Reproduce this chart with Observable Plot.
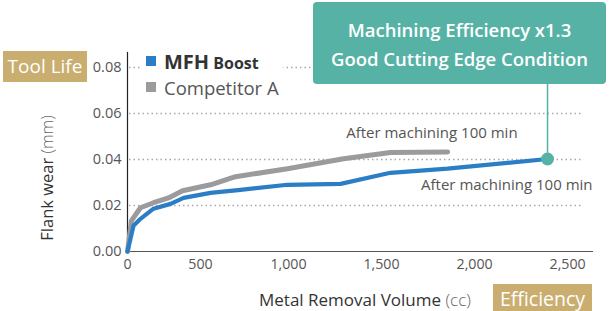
<!DOCTYPE html>
<html><head><meta charset="utf-8">
<script src="https://cdn.jsdelivr.net/npm/d3@7"></script>
<script src="https://cdn.jsdelivr.net/npm/@observablehq/plot@0.6"></script>
<style>
body{margin:0;background:#fff;font-family:"Open Sans",sans-serif;}
#wrap{position:relative;width:611px;height:311px;overflow:hidden;}
#chart{position:absolute;left:0;top:0;}
.tag{position:absolute;background:#c9ae6f;color:#fff;text-align:center;white-space:nowrap;}
#callout{position:absolute;left:313px;top:2px;width:293px;height:82px;background:#57b2a6;border-radius:4px;color:#fff;font-weight:600;font-size:18.5px;line-height:29px;text-align:center;box-sizing:border-box;padding-top:13px;white-space:nowrap;}
#legend{position:absolute;left:140px;top:48px;background:#fff;padding:0 4px 0 6px;}
.li{display:flex;align-items:center;height:26px;white-space:nowrap;color:#333;}
.sw{width:10px;height:10px;margin-right:8px;}
#ylab{position:absolute;left:46px;top:178px;transform:translate(-50%,-50%) rotate(-90deg);font-size:16.5px;color:#333;white-space:nowrap;}
#xlab{position:absolute;left:259px;top:288px;font-size:17px;color:#333;white-space:nowrap;}
.unit{color:#666;font-weight:300;}
</style></head>
<body><div id="wrap"><div id="chart"></div>
<div id="legend"></div>
<div id="callout"></div>
<div class="tag" id="toolLife" style="left:3px;top:51px;width:84px;height:31px;line-height:31px;font-size:19px;"></div>
<div class="tag" id="eff" style="left:493px;top:284px;width:99px;height:30px;line-height:29px;font-size:19.5px;"></div>
<div id="ylab"></div>
<div id="xlab"></div>
</div>
<script>
// Series: MFH Boost
const mfhX = [0, 41, 89, 178, 295, 384, 557, 727, 994, 1280, 1548, 1855, 2392];
const mfhY = [0, 0.0112, 0.0142, 0.0186, 0.0207, 0.0233, 0.0255, 0.0268, 0.029, 0.0294, 0.0342, 0.036, 0.0402];
// Series: Competitor A
const compX = [0, 27, 89, 178, 281, 377, 557, 699, 994, 1296, 1548, 1855];
const compY = [0, 0.0134, 0.019, 0.0212, 0.0233, 0.0264, 0.029, 0.0325, 0.036, 0.0403, 0.043, 0.0433];
const seriesNames = ["MFH Boost", "Competitor A"];
const xTicks = [0, 500, 1000, 1500, 2000, 2500];
const yTicks = [0, 0.02, 0.04, 0.06, 0.08];
const endLabel = "After machining 100 min";
const calloutLines = ["Machining Efficiency x1.3", "Good Cutting Edge Condition"];
const toolLifeText = "Tool Life";
const efficiencyText = "Efficiency";
const yTitle = ["Flank wear", "(mm)"];
const xTitle = ["Metal Removal Volume", "(cc)"];

const BLUE = "#2b7ec5", GRAY = "#9b9b9d", TEAL = "#57b2a6";

const mfh = mfhX.map((x, i) => ({x, y: mfhY[i]}));
const comp = compX.map((x, i) => ({x, y: compY[i]}));
const mfhEnd = mfh[mfh.length - 1];
const compEnd = comp[comp.length - 1];

const chart = Plot.plot({
  width: 611, height: 311,
  marginLeft: 127, marginRight: 19, marginTop: 52, marginBottom: 60,
  style: {fontFamily: "'Open Sans', sans-serif", fontSize: "14px", color: "#555"},
  x: {type: "linear", domain: [0, 500, 1000, 2580], range: [127, 200, 288, 582]},
  y: {domain: [0, 0.0865]},
  marks: [
    Plot.ruleY(yTicks.slice(1), {stroke: "#a8a8a8", strokeWidth: 1.5, strokeDasharray: "1.5,3", insetLeft: 2, insetRight: 10}),
    Plot.axisX({ticks: xTicks, tickSize: 0, tickPadding: 7, tickFormat: d3.format(","), label: null, fontSize: 14.2}),
    Plot.axisY({ticks: yTicks, tickSize: 0, tickPadding: 6, tickFormat: d3.format(".2f"), label: null, fontSize: 14.5}),
    Plot.frame({anchor: "bottom", stroke: "#555", strokeWidth: 1.2}),
    Plot.frame({anchor: "left", stroke: "#222", strokeWidth: 1.2}),
    Plot.ruleX([mfhEnd], {x: "x", y1: "y", y2: 0.0865, stroke: TEAL, strokeWidth: 1.5}),
    Plot.line(comp, {x: "x", y: "y", stroke: GRAY, strokeWidth: 5, strokeLinecap: "round", strokeLinejoin: "round"}),
    Plot.line(mfh, {x: "x", y: "y", stroke: BLUE, strokeWidth: 4.2, strokeLinecap: "round", strokeLinejoin: "round"}),
    Plot.dot([mfhEnd], {x: "x", y: "y", r: 6.5, fill: TEAL, stroke: null}),
    Plot.text([compEnd], {x: "x", y: "y", text: () => endLabel, textAnchor: "end", dx: 70, dy: -19, fill: "#555", fontSize: 15}),
    Plot.text([mfhEnd], {x: "x", y: "y", text: () => endLabel, textAnchor: "end", dx: 45, dy: 26, fill: "#555", fontSize: 15})
  ]
});
document.getElementById("chart").appendChild(chart);

// Legend
const legend = document.getElementById("legend");
[[seriesNames[0], BLUE], [seriesNames[1], GRAY]].forEach(([name, c], i) => {
  const row = document.createElement("div");
  row.className = "li";
  const sw = document.createElement("span"); sw.className = "sw"; sw.style.background = c;
  row.appendChild(sw);
  const t = document.createElement("span");
  if (i === 0) {
    const [a, b] = name.split(" ");
    t.innerHTML = `<b style="font-size:20px">${a}</b> <b style="font-size:16px">${b}</b>`;
  } else {
    t.textContent = name; t.style.fontSize = "18.5px"; t.style.color = "#555";
  }
  row.appendChild(t);
  legend.appendChild(row);
});
document.getElementById("callout").innerHTML = calloutLines.join("<br>");
document.getElementById("toolLife").textContent = toolLifeText;
document.getElementById("eff").textContent = efficiencyText;
document.getElementById("ylab").innerHTML = `${yTitle[0]} <span class="unit">${yTitle[1]}</span>`;
document.getElementById("xlab").innerHTML = `${xTitle[0]} <span class="unit">${xTitle[1]}</span>`;
</script>
</body></html>
